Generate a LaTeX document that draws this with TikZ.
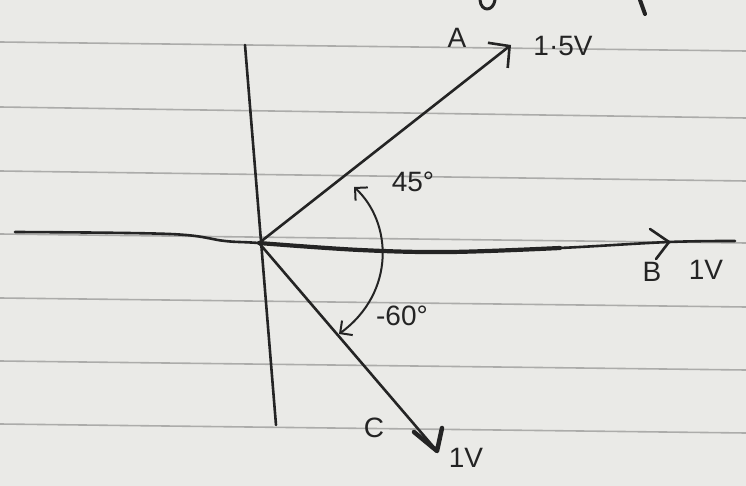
\documentclass[tikz,border=0pt]{standalone}
\usepackage{fontspec}
\setmainfont{Liberation Sans}
\usetikzlibrary{arrows.meta}
\definecolor{paper}{RGB}{234,234,231}
\definecolor{rule}{RGB}{172,172,170}
\definecolor{ink}{RGB}{36,36,36}
\tikzset{
  ink/.style={draw=ink, line width=2.6pt, line cap=round, line join=round},
  rulestyle/.style={draw=rule, line width=1.6pt},
  hand/.style={text=ink, font=\fontsize{28}{30}\selectfont, inner sep=0pt},
  barb/.style={-{Straight Barb[length=15pt,width=32pt,line width=2.6pt]}},
  arcbarb/.style={{Straight Barb[length=9pt,width=18pt,line width=2pt]}-{Straight Barb[length=9pt,width=18pt,line width=2pt]}},
}
\begin{document}
\begin{tikzpicture}[x=1pt,y=-1pt]
\useasboundingbox (0,0) rectangle (746,486);
\fill[paper] (0,0) rectangle (746,486);
% ruled lines
\foreach \a/\b in {42/51,107/118,171/181,234/243,298/307,361/370,424/433}
  \draw[rulestyle] (0,\a) -- (746,\b);
% partial strokes of writing cut off at the top edge
\draw[ink, line width=3pt] (480,0) .. controls (481,12) and (493,12) .. (495,0);
\draw[ink, line width=4pt] (640,0) -- (645,14);
% coordinates
\coordinate (O) at (259,243);
\coordinate (Atip) at (511,45);
\coordinate (Ctip) at (437,451);
\coordinate (Btip) at (669,242);
\coordinate (Vtop) at (245,45);
\coordinate (Vbot) at (276,425);
\coordinate (Hl) at (15,232);
\coordinate (Hr) at (735,241);
\coordinate (arcTop) at (354,187);
\coordinate (arcBot) at (339,334);
% vertical axis
\draw[ink] (Vtop) -- (Vbot);
% horizontal axis (slightly wavy, thicker in the middle)
\draw[ink] plot[smooth, tension=0.6] coordinates {(Hl) (170,234) (225,241) (O) (360,250) (450,252) (560,248) (Btip) (Hr)};
\draw[ink, line width=4.2pt] plot[smooth, tension=0.6] coordinates {(O) (360,250) (450,252) (560,248)};
% B arrowhead (open chevron)
\draw[ink] (650,229) -- (Btip) -- (656,259);
% phasor A
\draw[ink, barb] (O) -- (Atip);
% phasor C
\draw[ink] (O) -- (Ctip);
\draw[ink, line width=4.5pt] (414,432) -- (Ctip) -- (442,428);
% angle arc with arrows at both ends
\draw[ink, line width=2pt, arcbarb]
  (arcTop) .. controls (392,222) and (396,292) .. (arcBot);
% labels
\node[hand] (lA) at (457,38) {A};
\node[hand] (lAv) at (563,46) {1·5V};
\node[hand] (lB) at (652,272) {B};
\node[hand] (lBv) at (706,270) {1V};
\node[hand] (lC) at (374,428) {C};
\node[hand] (lCv) at (466,458) {1V};
\node[hand] (l45) at (413,182) {45°};
\node[hand] (l60) at (402,316) {-60°};
\end{tikzpicture}
\end{document}
